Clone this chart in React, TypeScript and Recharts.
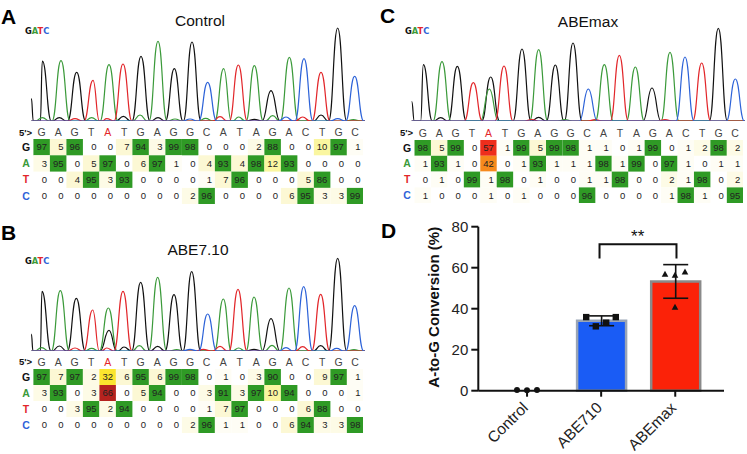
import {
  BarChart, Bar, Cell, ErrorBar, LineChart, Line, ScatterChart, Scatter,
  XAxis, YAxis, ReferenceDot,
} from "recharts"

// peaks: [scan position, signal]
const controlG = [[94, 68], [127, 180], [178, 10], [230, 146], [370, 14], [423, 194], [474, 10], [523, 157], [576, 237], [763, 5], [813, 91], [963, 18], [1013, 279]]
const controlA = [[127, 10], [183, 181], [275, 10], [327, 169], [420, 18], [474, 239], [525, 6], [617, 8], [671, 157], [716, 12], [763, 166], [818, 16], [868, 191], [1060, 4]]
const controlT = [[225, 7], [279, 122], [320, 7], [369, 171], [660, 13], [715, 168], [908, 12], [963, 146]]
const controlC = [[570, 6], [623, 116], [858, 12], [912, 187], [1013, 7], [1064, 134]]

const abe710G = [[94, 51], [126, 179], [178, 15], [229, 158], [327, 62], [372, 12], [422, 206], [473, 14], [522, 169], [575, 238], [762, 5], [813, 97], [962, 16], [1013, 278]]
const abe710A = [[125, 10], [181, 181], [275, 8], [325, 129], [418, 16], [473, 221], [530, 4], [670, 156], [716, 9], [762, 162], [816, 17], [867, 189], [1062, 4]]
const abe710T = [[225, 9], [278, 123], [320, 9], [369, 179], [610, 5], [660, 14], [714, 185], [908, 13], [962, 170]]
const abe710C = [[570, 5], [623, 111], [858, 10], [911, 193], [1010, 8], [1064, 136]]

const abemaxG = [[110, 59], [145, 169], [197, 10], [247, 164], [347, 132], [441, 216], [491, 11], [541, 168], [594, 234], [831, 99], [1030, 278]]
const abemaxA = [[201, 178], [343, 96], [491, 214], [570, 4], [688, 169], [781, 162], [885, 206]]
const abemaxT = [[295, 115], [387, 165], [470, 4], [660, 4], [733, 197], [870, 4], [980, 174]]
const abemaxC = [[640, 96], [930, 192], [1081, 126]]

const sequence = ["G", "A", "G", "T", "A", "T", "G", "A", "G", "G", "C", "A", "T", "A", "G", "A", "C", "T", "G", "C"]
const bases = ["G", "A", "T", "C"]

const controlCalls = [
  [97, 5, 96, 0, 0, 7, 94, 3, 99, 98, 0, 0, 0, 2, 88, 0, 0, 10, 97, 1],
  [3, 95, 0, 5, 97, 0, 6, 97, 1, 0, 4, 93, 4, 98, 12, 93, 0, 0, 0, 0],
  [0, 0, 4, 95, 3, 93, 0, 0, 0, 0, 1, 7, 96, 0, 0, 0, 5, 86, 0, 0],
  [0, 0, 0, 0, 0, 0, 0, 0, 0, 2, 96, 0, 0, 0, 0, 6, 95, 3, 3, 99],
]
const abe710Calls = [
  [97, 7, 97, 2, 32, 6, 95, 6, 99, 98, 0, 1, 0, 3, 90, 0, 0, 9, 97, 1],
  [3, 93, 0, 3, 66, 0, 5, 94, 0, 0, 3, 91, 3, 97, 10, 94, 0, 0, 0, 1],
  [0, 0, 3, 95, 2, 94, 0, 0, 0, 0, 1, 7, 97, 0, 0, 0, 6, 88, 0, 0],
  [0, 0, 0, 0, 0, 0, 0, 0, 0, 2, 96, 1, 1, 0, 0, 6, 94, 3, 3, 98],
]
const abemaxCalls = [
  [98, 5, 99, 0, 57, 1, 99, 5, 99, 98, 1, 1, 0, 1, 99, 0, 1, 2, 98, 2],
  [1, 93, 1, 0, 42, 0, 1, 93, 1, 1, 1, 98, 1, 99, 0, 97, 1, 0, 1, 1],
  [0, 1, 0, 99, 1, 98, 0, 1, 0, 0, 1, 1, 98, 0, 0, 2, 1, 98, 0, 2],
  [1, 0, 0, 0, 1, 0, 1, 0, 0, 0, 96, 0, 0, 0, 0, 1, 98, 1, 0, 95],
]

const groups = ["Control", "ABE710", "ABEmax"]
const means = [0, 34.1, 53.3]
const spreads = [0, 2.4, 8.2]
const controlPoints = [[-0.135, 0.3], [0, 0.2], [0.135, 0.3]]
const abe710Points = [[0.8, 35.9], [0.93, 31.4], [1.07, 33.2], [1.2, 35.9]]
const abemaxPoints = [[1.865, 56.9], [2, 56.4], [2.135, 58], [2, 40.7]]
const bracket = [[0.98, 64.5], [0.98, 71.5], [2.02, 71.5], [2.02, 64.5]]

const FONT = "'Liberation Sans', Arial, sans-serif"
const BASE_COLORS: Record<string, string> = { G: "#111111", A: "#3b9a3a", T: "#e2262a", C: "#2c62d8" }

const toRows = (pts: number[][]) => pts.map(([x, y]) => ({ x, y }))

// each peak goes down to the baseline on both sides
function traceRows(peaks: number[][], start: number, end: number) {
  const rows: { x: number; y: number }[] = []
  if (peaks[0][0] !== start) rows.push({ x: start, y: 0 })
  peaks.forEach(([x, h]) => {
    const foot = h < 30 ? 22 : 27
    if (x - foot > start) rows.push({ x: x - foot, y: 0 })
    rows.push({ x, y: h })
    rows.push({ x: x + foot, y: 0 })
  })
  rows.push({ x: end, y: 0 })
  return rows.sort((a, b) => a.x - b.x)
}

function Trace({ left, top, peaks, start, end }: any) {
  return (
    <div style={{ position: "absolute", left, top }}>
      <LineChart width={375} height={100} margin={{ top: 0, right: 0, bottom: 0, left: 0 }}>
        <XAxis type="number" dataKey="x" domain={[0, 1125]} hide />
        <YAxis type="number" domain={[0, 300]} hide width={0} />
        {["G", "A", "T", "C"].map((b, i) => (
          <Line
            key={b}
            data={traceRows(peaks[i], start, end)}
            dataKey="y"
            type="bumpX"
            stroke={BASE_COLORS[b]}
            strokeWidth={1.2}
            dot={false}
            isAnimationActive={false}
          />
        ))}
      </LineChart>
    </div>
  )
}

function heat(v: number) {
  if (v >= 85) return "#2f9a25"
  if (v >= 60) return "#b5231f"
  if (v >= 50) return "#ee2e1c"
  if (v >= 40) return "#f68a1c"
  if (v >= 20) return "#fbe52e"
  if (v >= 10) return "#faf6a0"
  if (v >= 4) return "#fcf8d4"
  if (v >= 2) return "#fdfbe6"
  if (v >= 1) return "#fefdf5"
  return "none"
}

function CallTable({ left, top, plotLeft, colW, rowH, calls }: any) {
  const rows = calls.flatMap((row: number[], r: number) =>
    row.map((value, c) => ({ x: c, y: r, value }))
  )
  const headH = 20
  return (
    <div style={{ position: "absolute", left, top }}>
      <ScatterChart
        width={plotLeft + colW * 20}
        height={headH + rowH * 4}
        margin={{ top: 0, right: 0, bottom: 0, left: 0 }}
      >
        <XAxis
          type="number"
          dataKey="x"
          orientation="top"
          height={headH}
          domain={[-0.5, 19.5]}
          ticks={sequence.map((_, i) => i)}
          interval={0}
          axisLine={false}
          tickLine={false}
          tick={(p: any) => (
            <text x={p.x} y={headH - 3} textAnchor="middle" fontFamily={FONT} fontSize={10.5}
              fill={p.payload.value === 4 ? "#e2262a" : "#444"}>
              {sequence[p.payload.value]}
            </text>
          )}
        />
        <YAxis
          type="number"
          dataKey="y"
          reversed
          width={plotLeft}
          domain={[-0.5, 3.5]}
          ticks={[0, 1, 2, 3]}
          interval={0}
          axisLine={false}
          tickLine={false}
          tick={(p: any) => (
            <text x={plotLeft - 7.4} y={p.y + 3.7} textAnchor="middle" fontFamily={FONT} fontSize={10.5}
              fontWeight="bold" fill={BASE_COLORS[bases[p.payload.value]]}>
              {bases[p.payload.value]}
            </text>
          )}
        />
        <Scatter
          data={rows}
          isAnimationActive={false}
          shape={(p: any) => (
            <g>
              <rect x={p.cx - colW / 2} y={p.cy - rowH / 2} width={colW} height={rowH} fill={heat(p.payload.value)} />
              <text x={p.cx + 5.3} y={p.cy + 3.3} textAnchor="end" fontFamily={FONT} fontSize={9.5} fill="#222">
                {p.payload.value}
              </text>
            </g>
          )}
        />
      </ScatterChart>
    </div>
  )
}

const dotMark = (p: any) => <circle cx={p.cx} cy={p.cy} r={3} fill="#111" />
const squareMark = (p: any) => <rect x={p.cx - 3.2} y={p.cy - 3.2} width={6.4} height={6.4} fill="#111" />
const triangleMark = (p: any) => (
  <polygon points={`${p.cx},${p.cy - 3.4} ${p.cx + 3.3},${p.cy + 2.6} ${p.cx - 3.3},${p.cy + 2.6}`} fill="#111" />
)

const GroupTick = (p: any) => (
  <text
    x={p.x + 2}
    y={p.y + 10}
    transform={`rotate(-45 ${p.x + 2} ${p.y + 10})`}
    textAnchor="end"
    fontFamily={FONT}
    fontSize={15.5}
    fill="#222"
  >
    {p.payload.value}
  </text>
)

function ConversionChart() {
  const data = groups.map((name, i) => ({ name, mean: means[i], spread: spreads[i] }))
  const w = 357
  const h = 239
  const fills = ["#1a5cf5", "#1a5cf5", "#fb2208"]
  const edges = ["#9aa5b5", "#9aa5b5", "#8a8a8a"]
  return (
    <div style={{ position: "absolute", left: 390, top: 215 }}>
      <BarChart width={w} height={h} data={data} margin={{ top: 11.7, right: 23, bottom: 0, left: 0 }}>
        <XAxis
          dataKey="name"
          height={63.3}
          padding={{ left: 11.7, right: 11.7 }}
          interval={0}
          axisLine={{ stroke: "#111", strokeWidth: 2 }}
          tickLine={{ stroke: "#111", strokeWidth: 2 }}
          tickSize={6}
          tick={GroupTick}
        />
        <YAxis
          width={88.3}
          domain={[0, 80]}
          ticks={[0, 20, 40, 60, 80]}
          axisLine={{ stroke: "#111", strokeWidth: 2 }}
          tickLine={{ stroke: "#111", strokeWidth: 2 }}
          tickSize={7}
          tickMargin={3}
          tick={{ fontFamily: FONT, fontSize: 15, fill: "#222" }}
          label={{
            value: "A-to-G Conversion (%)",
            angle: -90,
            position: "insideLeft",
            dx: 39,
            dy: 79,
            style: { fontFamily: FONT, fontSize: 15, fontWeight: "bold", fill: "#111" },
          }}
        />
        <Bar dataKey="mean" barSize={49} strokeWidth={2.5} isAnimationActive={false}>
          {data.map((d, i) => (
            <Cell key={d.name} fill={fills[i]} stroke={edges[i]} />
          ))}
          <ErrorBar dataKey="spread" width={12.5} stroke="#111" strokeWidth={1.6} isAnimationActive={false} />
        </Bar>
      </BarChart>
      <div style={{ position: "absolute", left: 0, top: 0 }}>
        <ScatterChart width={w} height={h} margin={{ top: 11.7, right: 23, bottom: 63.3, left: 88.3 }}>
          <XAxis type="number" dataKey="x" domain={[-0.658, 2.662]} hide />
          <YAxis type="number" dataKey="y" domain={[0, 80]} hide width={0} />
          <Scatter data={toRows(controlPoints)} shape={dotMark} isAnimationActive={false} />
          <Scatter data={toRows(abe710Points)} shape={squareMark} isAnimationActive={false} />
          <Scatter data={toRows(abemaxPoints)} shape={triangleMark} isAnimationActive={false} />
          <Scatter
            data={toRows(bracket)}
            line={{ stroke: "#111", strokeWidth: 2 }}
            shape={() => <g />}
            isAnimationActive={false}
          />
          <ReferenceDot
            x={1.495}
            y={75.5}
            r={0}
            fill="none"
            stroke="none"
            label={{ value: "**", position: "center", style: { fontFamily: FONT, fontSize: 17, fill: "#111" } }}
          />
        </ScatterChart>
      </div>
    </div>
  )
}

function Annotations() {
  const gatc = (x: number, y: number) => (
    <text x={x} y={y} fontFamily="'DejaVu Sans', sans-serif" fontSize={8.3} fontWeight="bold">
      <tspan fill={BASE_COLORS.G}>G</tspan>
      <tspan fill={BASE_COLORS.A}>A</tspan>
      <tspan fill={BASE_COLORS.T}>T</tspan>
      <tspan fill={BASE_COLORS.C}>C</tspan>
    </text>
  )
  const letter = (t: string, x: number, y: number) => (
    <text x={x} y={y} fontFamily={FONT} fontSize={21} fontWeight="bold" fill="#000">{t}</text>
  )
  const title = (t: string, x: number, y: number) => (
    <text x={x} y={y} textAnchor="middle" fontFamily={FONT} fontSize={15.5} fill="#111">{t}</text>
  )
  const prime = (x: number, y: number) => (
    <text x={x} y={y} textAnchor="end" fontFamily={FONT} fontSize={9.5} fontWeight="bold" fill="#111">5'&gt;</text>
  )
  return (
    <svg width={747} height={454} style={{ position: "absolute", left: 0, top: 0 }}>
      {letter("A", 1, 24)}
      {letter("B", 1, 240)}
      {letter("C", 380, 23)}
      {letter("D", 381, 238)}
      {title("Control", 200, 26)}
      {title("ABE7.10", 198, 255)}
      {title("ABEmax", 588, 26.5)}
      {gatc(25, 34)}
      {gatc(25, 264)}
      {gatc(405, 34)}
      {prime(32, 136)}
      {prime(32, 365)}
      {prime(413, 136)}
    </svg>
  )
}

export default function App() {
  return (
    <div style={{ position: "absolute", left: 0, top: 0, width: 747, height: 454, overflow: "hidden", background: "#fff" }}>
      <Trace left={0} top={21} start={94} end={1095} peaks={[controlG, controlA, controlT, controlC]} />
      <Trace left={0} top={250.5} start={94} end={1095} peaks={[abe710G, abe710A, abe710T, abe710C]} />
      <Trace left={375} top={20.7} start={110} end={1110} peaks={[abemaxG, abemaxA, abemaxT, abemaxC]} />
      <CallTable left={0} top={119} plotLeft={33.4} colW={16.5} rowH={16.3} calls={controlCalls} />
      <CallTable left={0} top={349.3} plotLeft={33.4} colW={16.5} rowH={16} calls={abe710Calls} />
      <CallTable left={375} top={120.3} plotLeft={39.5} colW={16.44} rowH={15.8} calls={abemaxCalls} />
      <ConversionChart />
      <Annotations />
    </div>
  )
}
